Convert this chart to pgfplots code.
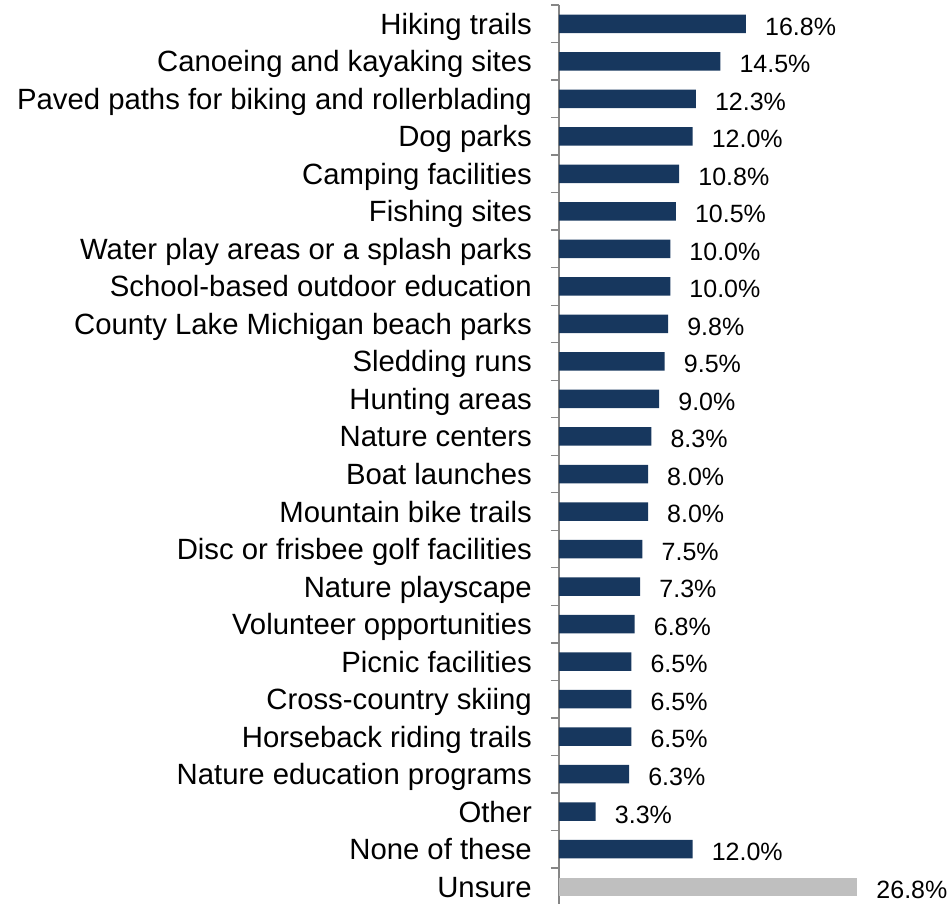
\documentclass[border=0pt]{standalone}
\usepackage{pgfplots}
\pgfplotsset{compat=1.18}
\usepackage{fontspec}
\setmainfont{Liberation Sans}
\definecolor{navy}{HTML}{17375E}
\definecolor{lgray}{HTML}{BFBFBF}
\definecolor{axgray}{HTML}{868686}
\begin{document}
\begin{tikzpicture}
\begin{axis}[
  scale only axis,
  width=333.9pt, height=900.5pt,
  xmin=0, xmax=30,
  ymin=-0.5, ymax=23.5,
  y dir=reverse,
  xbar, bar width=18.5pt, bar shift=0pt,
  axis x line=none,
  axis y line*=left,
  y axis line style={axgray, line width=1.3pt},
  ytick={0,...,23},
  yticklabels={Hiking trails,Canoeing and kayaking sites,Paved paths for biking and rollerblading,Dog parks,Camping facilities,Fishing sites,Water play areas or a splash parks,School-based outdoor education,County Lake Michigan beach parks,Sledding runs,Hunting areas,Nature centers,Boat launches,Mountain bike trails,Disc or frisbee golf facilities,Nature playscape,Volunteer opportunities,Picnic facilities,Cross-country skiing,Horseback riding trails,Nature education programs,Other,None of these,Unsure},
  minor ytick={-0.5,0.5,...,23.5},
  major tick length=0pt,
  minor tick length=8pt,
  tick align=outside,
  tick pos=left,
  minor tick style={axgray, line width=1.3pt},
  yticklabel style={font=\fontsize{29.3}{34}\selectfont, inner sep=0pt, anchor=base east, xshift=-27pt, yshift=-10.5pt},
  /pgf/number format/assume math mode=true,
  nodes near coords={\pgfmathprintnumber[fixed,fixed zerofill,precision=1]{\pgfplotspointmeta}\%},
  every node near coord/.append style={font=\fontsize{25}{30}\selectfont, inner sep=0pt, anchor=base west, xshift=19pt, yshift=-11.3pt, black},
  clip=false,
]
\addplot[fill=navy, draw=none] coordinates {
(16.8,0) (14.5,1) (12.3,2) (12.0,3) (10.8,4) (10.5,5) (10.0,6) (10.0,7) (9.8,8) (9.5,9) (9.0,10) (8.3,11) (8.0,12) (8.0,13) (7.5,14) (7.3,15) (6.8,16) (6.5,17) (6.5,18) (6.5,19) (6.3,20) (3.3,21) (12.0,22)
};
\addplot[fill=lgray, draw=none] coordinates {(26.8,23)};
\end{axis}
\pgfresetboundingbox
\path ([shift={(-559pt,5pt)}]current axis.north west) rectangle ([shift={(392pt,-898pt)}]current axis.north west);
\end{tikzpicture}
\end{document}
